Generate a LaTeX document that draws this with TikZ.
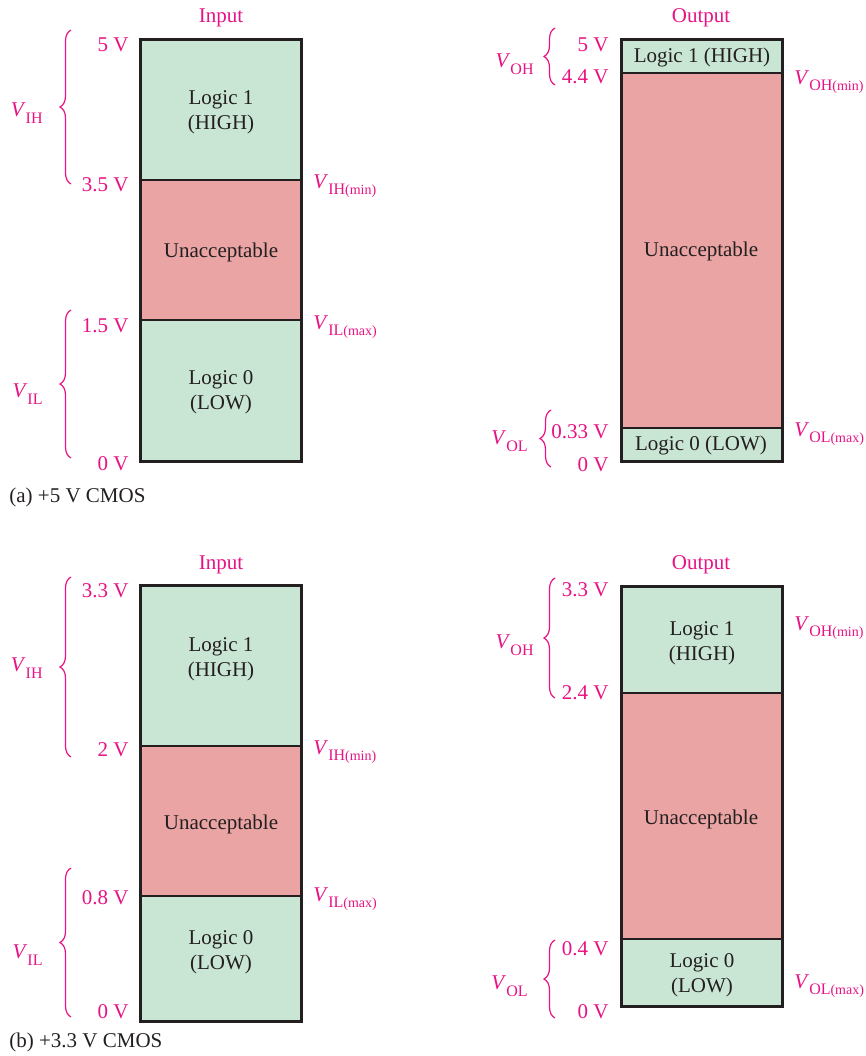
\documentclass[tikz,border=0pt]{standalone}
\usepackage{fontspec}
\setmainfont{Liberation Serif}
\usetikzlibrary{decorations.pathreplacing}
\definecolor{vmag}{RGB}{232,18,132}
\definecolor{hilo}{RGB}{201,229,212}
\definecolor{badzone}{RGB}{234,164,164}
\definecolor{boxline}{RGB}{35,31,32}
\newcommand{\vsym}[2]{\textit{V}\raisebox{-3.3pt}{\fontsize{8}{8}\selectfont#1\fontsize{7}{7}\selectfont#2}}

\begin{document}
\begin{tikzpicture}[x=0.5pt, y=-0.5pt,
    every node/.style={font=\fontsize{10.5}{12.6}\selectfont},
    zone/.style={align=center, text=boxline, inner sep=0pt},
    hdr/.style={text=vmag, inner sep=0pt},
    lvl/.style={text=vmag, anchor=east, inner sep=0pt},
    lim/.style={text=vmag, anchor=west, inner sep=0pt},
    rng/.style={text=vmag, anchor=east, inner sep=0pt},
    caption/.style={text=boxline, anchor=west, inner sep=0pt},
    frame/.style={draw=boxline, line width=1.5pt},
    divider/.style={draw=boxline, line width=1pt},
    brc/.style={draw=vmag, line width=0.6pt, decorate, decoration={brace, amplitude=5.5pt}}
]
    \useasboundingbox (0,0) rectangle (866,1056);

    % (a) input
    \fill[hilo]    (140,39)  rectangle (301,180);
    \fill[badzone] (140,180) rectangle (301,320);
    \fill[hilo]    (140,320) rectangle (301,461);
    \draw[divider] (140,180) -- (301,180);
    \draw[divider] (140,320) -- (301,320);
    \draw[frame]   (140,39)  rectangle (301,461);
    \node[hdr]  (inA)   at (221,18)  {Input};
    \node[zone] (inA1)  at (221,112) {Logic 1\\(HIGH)};
    \node[zone] (inAx)  at (221,252) {Unacceptable};
    \node[zone] (inA0)  at (221,392) {Logic 0\\(LOW)};
    \node[lvl]  (inA5)  at (129,45)  {5 V};
    \node[lvl]  (inA35) at (129,185) {3.5 V};
    \node[lvl]  (inA15) at (129,326) {1.5 V};
    \node[lvl]  (inA00) at (129,464) {0 V};
    \node[lim]  (inAih) at (313,186) {\vsym{IH}{(min)}};
    \node[lim]  (inAil) at (313,327) {\vsym{IL}{(max)}};
    \draw[brc] (71,184) -- (71,30);
    \draw[brc] (71,458) -- (71,310);
    \node[rng]  (inAvih) at (43,113) {\vsym{IH}{}};
    \node[rng]  (inAvil) at (43,394) {\vsym{IL}{}};
    \node[caption] (capA) at (9,497) {(a) +5 V CMOS};

    % (a) output
    \fill[hilo]    (621,39)  rectangle (782,73);
    \fill[badzone] (621,73)  rectangle (782,428);
    \fill[hilo]    (621,428) rectangle (782,461);
    \draw[divider] (621,73)  -- (782,73);
    \draw[divider] (621,428) -- (782,428);
    \draw[frame]   (621,39)  rectangle (782,461);
    \node[hdr]  (outA)   at (701,18)  {Output};
    \node[zone] (outA1)  at (702,57)  {Logic 1 (HIGH)};
    \node[zone] (outAx)  at (701,251) {Unacceptable};
    \node[zone] (outA0)  at (701,445) {Logic 0 (LOW)};
    \node[lvl]  (outA5)  at (609,45)  {5 V};
    \node[lvl]  (outA44) at (609,77)  {4.4 V};
    \node[lvl]  (outA33) at (609,432) {0.33 V};
    \node[lvl]  (outA00) at (609,465) {0 V};
    \node[lim]  (outAoh) at (794,82)  {\vsym{OH}{(min)}};
    \node[lim]  (outAol) at (794,434) {\vsym{OL}{(max)}};
    \draw[brc] (555,85) -- (555,28);
    \draw[brc] (551,467) -- (551,410);
    \node[rng]  (outAvoh) at (534,64)  {\vsym{OH}{}};
    \node[rng]  (outAvol) at (528,441) {\vsym{OL}{}};

    % (b) input
    \fill[hilo]    (140,585) rectangle (301,746);
    \fill[badzone] (140,746) rectangle (301,896);
    \fill[hilo]    (140,896) rectangle (301,1021);
    \draw[divider] (140,746) -- (301,746);
    \draw[divider] (140,896) -- (301,896);
    \draw[frame]   (140,585) rectangle (301,1021);
    \node[hdr]  (inB)   at (221,565)  {Input};
    \node[zone] (inB1)  at (221,659)  {Logic 1\\(HIGH)};
    \node[zone] (inBx)  at (221,824)  {Unacceptable};
    \node[zone] (inB0)  at (221,952)  {Logic 0\\(LOW)};
    \node[lvl]  (inB33) at (129,591)  {3.3 V};
    \node[lvl]  (inB2)  at (129,750)  {2 V};
    \node[lvl]  (inB08) at (129,898)  {0.8 V};
    \node[lvl]  (inB00) at (129,1012) {0 V};
    \node[lim]  (inBih) at (313,752)  {\vsym{IH}{(min)}};
    \node[lim]  (inBil) at (313,899)  {\vsym{IL}{(max)}};
    \draw[brc] (71,757) -- (71,577);
    \draw[brc] (71,1017) -- (71,868);
    \node[rng]  (inBvih) at (43,668) {\vsym{IH}{}};
    \node[rng]  (inBvil) at (43,955) {\vsym{IL}{}};
    \node[caption] (capB) at (9,1042) {(b) +3.3 V CMOS};

    % (b) output
    \fill[hilo]    (621,586) rectangle (782,693);
    \fill[badzone] (621,693) rectangle (782,939);
    \fill[hilo]    (621,939) rectangle (782,1006);
    \draw[divider] (621,693) -- (782,693);
    \draw[divider] (621,939) -- (782,939);
    \draw[frame]   (621,586) rectangle (782,1006);
    \node[hdr]  (outB)   at (701,565)  {Output};
    \node[zone] (outB1)  at (702,643)  {Logic 1\\(HIGH)};
    \node[zone] (outBx)  at (701,819)  {Unacceptable};
    \node[zone] (outB0)  at (702,975)  {Logic 0\\(LOW)};
    \node[lvl]  (outB33) at (609,590)  {3.3 V};
    \node[lvl]  (outB24) at (609,693)  {2.4 V};
    \node[lvl]  (outB04) at (609,949)  {0.4 V};
    \node[lvl]  (outB00) at (609,1012) {0 V};
    \node[lim]  (outBoh) at (794,628)  {\vsym{OH}{(min)}};
    \node[lim]  (outBol) at (794,986)  {\vsym{OL}{(max)}};
    \draw[brc] (555,698) -- (555,578);
    \draw[brc] (555,1018) -- (555,940);
    \node[rng]  (outBvoh) at (534,645) {\vsym{OH}{}};
    \node[rng]  (outBvol) at (528,986) {\vsym{OL}{}};
\end{tikzpicture}
\end{document}
